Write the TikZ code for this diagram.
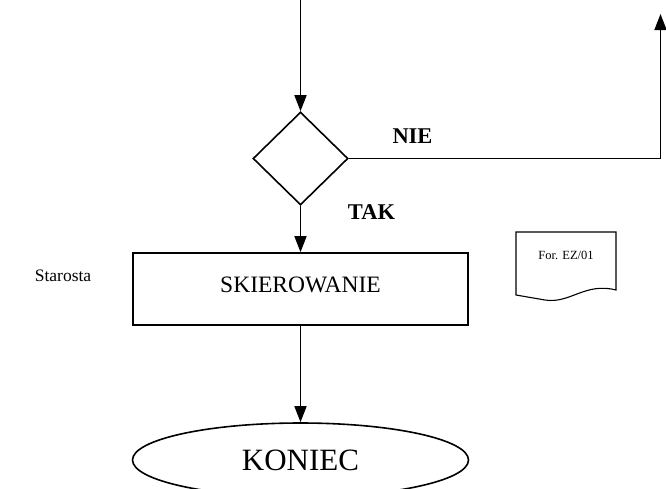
\documentclass[tikz,border=0pt]{standalone}
\usepackage{fontspec}
\setmainfont{Liberation Serif}
\usetikzlibrary{shapes.geometric,arrows.meta}
\begin{document}
\begin{tikzpicture}[x=1pt,y=-1pt,
  ln/.style={line width=1.6pt},
  arr/.style={ln,-{Triangle[length=16pt,width=12pt]}},
  dec/.style={draw,ln,diamond,minimum width=95pt,minimum height=93pt,inner sep=0pt},
  boxst/.style={draw,ln,rectangle,minimum width=335pt,minimum height=72pt,inner sep=0pt,font=\fontsize{23.5}{25}\selectfont},
  endst/.style={draw,ln,ellipse,minimum width=336pt,minimum height=74pt,inner sep=0pt,font=\fontsize{31}{34}\selectfont},
  lab/.style={font=\bfseries\fontsize{22.5}{24}\selectfont,inner sep=0pt},
  side/.style={font=\fontsize{17.5}{19}\selectfont,inner sep=0pt},
  docst/.style={font=\fontsize{12.5}{14}\selectfont,inner sep=0pt}]
\clip (0,0) rectangle (666,488);
\fill[white] (0,0) rectangle (666,488);
\coordinate (top) at (300.5,0);
\node[dec] (d) at (300.5,158.5) {};
\node[boxst] (b) at (300.5,289) {\raisebox{8pt}{SKIEROWANIE}};
\node[endst] (e) at (300.5,460) {KONIEC};
\coordinate (g1) at (372,158.5);
\coordinate (g2) at (468,158.5);
\coordinate (corner) at (660.5,158.5);
\coordinate (up) at (660.5,14);
\draw[arr] (top) -- (d.north);
\draw[arr] (d.south) -- (b.north);
\draw[arr] (b.south) -- (e.north);
\draw[ln] (d.east) -- (g1);
\draw[line width=0.8pt] (g1) -- (g2);
\draw[ln] (g2) -- (corner);
\draw[arr] (corner) -- (up);
\node[lab] (nie) at (412.5,136) {NIE};
\node[lab] (tak) at (371.5,212) {TAK};
\node[side] (st) at (63,276) {Starosta};
\draw[line width=1.1pt] (516,232) -- (616,232) -- (616,290) .. controls (585,282) and (570,304) .. (545,300) .. controls (530,298) .. (516,295) -- cycle;
\node[docst] (doc) at (566,255) {For. EZ/01};
\end{tikzpicture}
\end{document}
